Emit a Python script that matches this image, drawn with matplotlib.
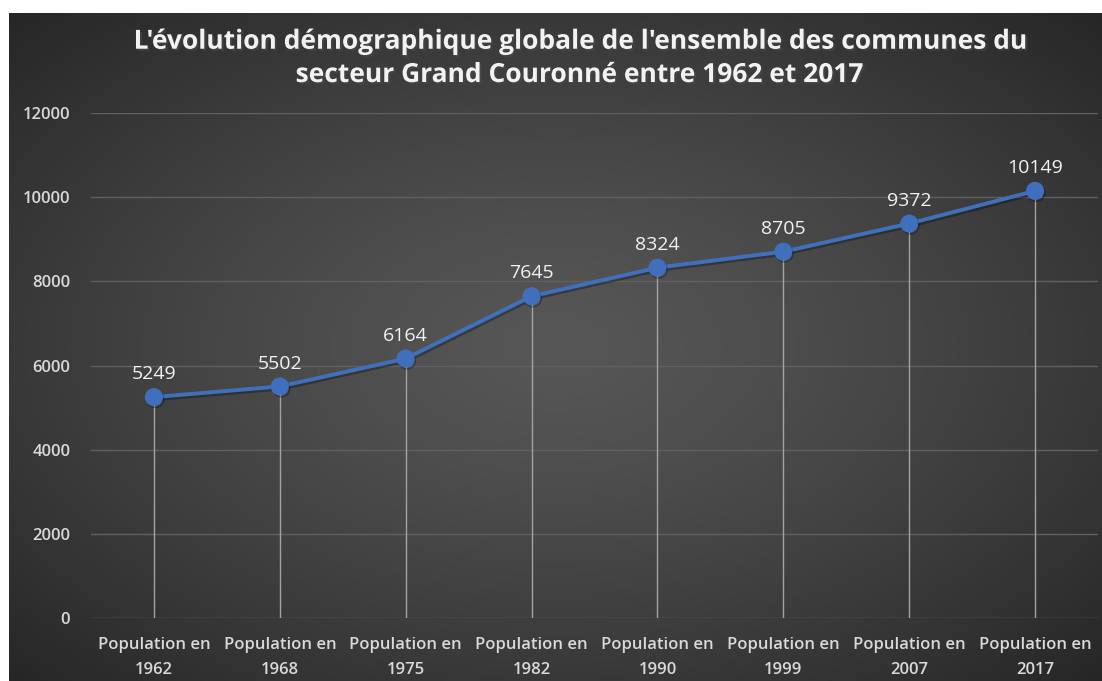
import matplotlib.pyplot as plt
import matplotlib.patheffects as pe
import numpy as np

# data
years = ["1962", "1968", "1975", "1982", "1990", "1999", "2007", "2017"]
population = [5249, 5502, 6164, 7645, 8324, 8705, 9372, 10149]
tick_labels = ["Population en\n" + y for y in years]
yticks = [0, 2000, 4000, 6000, 8000, 10000, 12000]

plt.rcParams['font.family'] = ['Open Sans', 'DejaVu Sans']

fig = plt.figure(figsize=(11.02, 6.81), dpi=100)
fig.patch.set_facecolor('white')

# dark radial gradient background (leaves a white strip top and left)
bg = fig.add_axes([9 / 1102, 0, 1 - 9 / 1102, (681 - 13) / 681])
gx, gy = np.meshgrid(np.linspace(-1, 1, 400), np.linspace(-1, 1, 250))
r = np.clip(np.sqrt(gx ** 2 + gy ** 2) / np.sqrt(2), 0, 1)
shade = 0.34 - 0.19 * r ** 1.3
bg.imshow(np.dstack([shade] * 3), aspect='auto', extent=[0, 1, 0, 1])
bg.set_axis_off()

ax = fig.add_axes([91 / 1102, (681 - 618) / 681, (1098 - 91) / 1102, (618 - 113) / 681])
ax.patch.set_alpha(0)
x = np.arange(len(years))

for xi, v in zip(x, population):
    ax.vlines(xi, 0, v, color='#a3a3a3', lw=1, zorder=2)

ax.plot(x, population, color='#4070bd', lw=2.8, marker='o', markersize=12,
        zorder=4, solid_capstyle='round',
        path_effects=[pe.SimpleLineShadow(offset=(1, -1.5), alpha=0.3), pe.Normal()])

for xi, v in zip(x, population):
    ax.annotate(str(v), (xi, v), xytext=(0, 10), textcoords='offset points',
                ha='center', va='bottom', color='#f2f2f2', fontsize=14)

ax.set_xlim(-0.5, len(years) - 0.5)
ax.set_ylim(0, 12000)
ax.set_yticks(yticks)
ax.set_yticklabels([str(t) for t in yticks])
ax.set_xticks(x)
ax.set_xticklabels(tick_labels, linespacing=1.7)
ax.tick_params(axis='both', length=0, colors='#d9d9d9', labelsize=12)
ax.tick_params(axis='y', pad=15)
ax.tick_params(axis='x', pad=14)
for lab in ax.get_xticklabels() + ax.get_yticklabels():
    lab.set_fontweight('semibold')

ax.grid(axis='y', color='#606060', lw=1)
ax.set_axisbelow(True)
for s in ax.spines.values():
    s.set_visible(False)

fig.text(0.525, 0.915, "L'évolution démographique globale de l'ensemble des communes du\n"
         "secteur Grand Couronné entre 1962 et 2017",
         ha='center', va='center', color='#f2f2f2', fontsize=19, fontweight='bold',
         linespacing=1.3,
         path_effects=[pe.withSimplePatchShadow(offset=(1.5, -1.5), alpha=0.6)])

plt.savefig("out.png", dpi=100)
